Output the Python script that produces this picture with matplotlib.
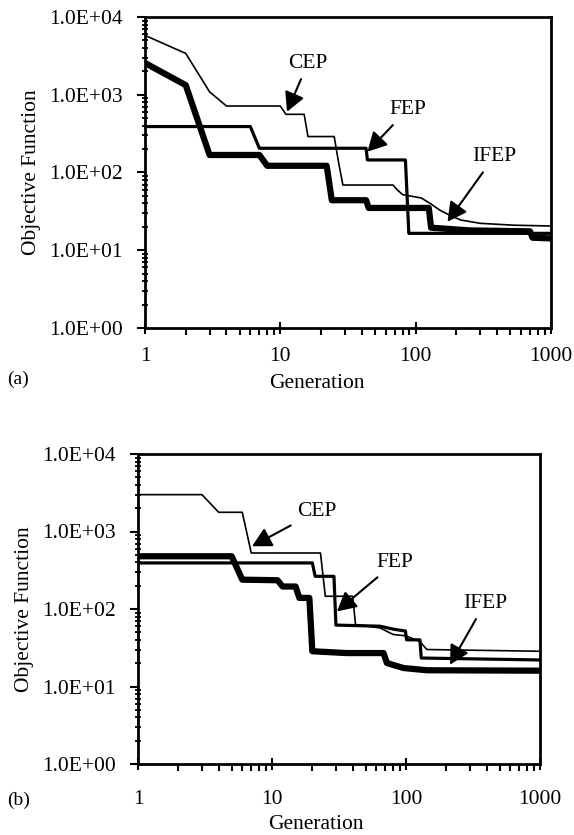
import matplotlib
matplotlib.use("Agg")
import matplotlib.pyplot as plt
from matplotlib.ticker import LogLocator, NullFormatter

plt.rcParams["font.family"] = ["Liberation Serif", "DejaVu Serif"]

# ---- data ----
y_ticks = [1, 10, 100, 1000, 10000]
y_tick_labels = ["1.0E+00", "1.0E+01", "1.0E+02", "1.0E+03", "1.0E+04"]
x_ticks = [1, 10, 100, 1000]
x_tick_labels = ["1", "10", "100", "1000"]

# panel (a)
cep_a_gen = [1, 2, 3, 4, 10, 11, 15, 16, 25, 27, 29, 68, 73, 80, 110, 128, 150, 180, 215, 300, 530, 1000]
cep_a_val = [5800, 3400, 1090, 716, 716, 560, 560, 290, 290, 132, 69, 69, 60, 52, 47, 40, 33, 28, 24.5, 22.2, 21, 20.5]
fep_a_gen = [1, 6, 7, 43, 44, 84, 89, 1000]
fep_a_val = [390, 390, 205, 205, 145, 145, 16.5, 16.5]
ifep_a_gen = [1, 2, 3, 7, 8, 22, 24, 43, 45, 125, 130, 250, 700, 730, 1000]
ifep_a_val = [2560, 1330, 168, 168, 122, 122, 44, 44, 35, 35, 19.5, 18, 17.5, 14.5, 14.2]

# panel (b)
cep_b_gen = [1, 3, 4, 6, 7, 23, 25, 40, 42, 64, 80, 100, 127, 143, 1000]
cep_b_val = [2990, 2990, 1770, 1770, 528, 528, 146, 146, 63, 57, 47, 45, 38, 30, 28.5]
fep_b_gen = [1, 20, 21, 29, 30, 64, 80, 99, 101, 127, 130, 1000]
fep_b_val = [393, 393, 264, 264, 62, 60, 55, 52, 40, 40, 23.3, 22]
ifep_b_gen = [1, 5, 6, 11, 12, 15, 16, 19, 20, 36, 68, 72, 80, 96, 143, 1000]
ifep_b_val = [479, 479, 239, 235, 195, 195, 139, 139, 28.5, 27, 27, 20.1, 19, 17.3, 16.2, 16]

# label text position, arrow tip
notes_a = [("CEP", (16, 2560), (11.2, 605)),
           ("FEP", (87, 640), (44, 185)),
           ("IFEP", (380, 160), (172, 23.3))]
notes_b = [("CEP", (21.6, 1820), (7.1, 644)),
           ("FEP", (83, 400), (30.5, 93)),
           ("IFEP", (389, 119), (213, 19.1))]

fig = plt.figure(figsize=(5.74, 8.35), dpi=100)
ax_a = fig.add_axes([145/574, 1-328/835, 406/574, 311/835])
ax_b = fig.add_axes([138/574, 1-764/835, 402/574, 310/835])


def setup(ax, cep, fep, ifep, notes, xlab_x, xlab_y, lab_pad):
    ax.plot(cep[0], cep[1], color="black", lw=1.2)
    ax.plot(fep[0], fep[1], color="black", lw=2.3)
    ax.plot(ifep[0], ifep[1], color="black", lw=4.5)
    ax.set_xscale("log")
    ax.set_yscale("log")
    ax.set_xlim(1, 1000)
    ax.set_ylim(1, 10000)
    ax.set_xticks(x_ticks)
    ax.set_xticklabels(x_tick_labels)
    ax.set_yticks(y_ticks)
    ax.set_yticklabels(y_tick_labels)
    ax.xaxis.set_minor_locator(LogLocator(base=10, subs=range(2, 10)))
    ax.yaxis.set_minor_locator(LogLocator(base=10, subs=range(2, 10)))
    ax.xaxis.set_minor_formatter(NullFormatter())
    ax.yaxis.set_minor_formatter(NullFormatter())
    ax.tick_params(axis="x", which="major", direction="inout", length=9, width=1.5,
                   labelsize=15.5, pad=lab_pad)
    ax.tick_params(axis="x", which="minor", direction="out", length=5, width=1.5)
    ax.tick_params(axis="y", which="major", direction="out", length=6, width=1.5,
                   labelsize=15.5, pad=10)
    ax.tick_params(axis="y", which="minor", direction="inout", length=5, width=1.3)
    for s in ax.spines.values():
        s.set_linewidth(2)
    ax.set_ylabel("Objective Function", fontsize=15.5, labelpad=6)
    ax.set_xlabel("Generation", fontsize=15.5)
    ax.xaxis.set_label_coords(xlab_x, xlab_y)
    for txt, pos, tip in notes:
        ax.annotate(txt, xy=tip, xytext=pos, fontsize=15.5, ha="center", va="center",
                    arrowprops=dict(arrowstyle="-|>,head_length=0.75,head_width=0.4",
                                    color="black", lw=1.5, shrinkA=3, shrinkB=0))


setup(ax_a, (cep_a_gen, cep_a_val), (fep_a_gen, fep_a_val), (ifep_a_gen, ifep_a_val),
      notes_a, 0.423, -0.148, 9)
setup(ax_b, (cep_b_gen, cep_b_val), (fep_b_gen, fep_b_val), (ifep_b_gen, ifep_b_val),
      notes_b, 0.443, -0.163, 14)

fig.text(0.012, 1-379/835, "(a)", fontsize=14, va="center", ha="left")
fig.text(0.012, 1-800/835, "(b)", fontsize=14, va="center", ha="left")

fig.savefig("out.png", dpi=100)
